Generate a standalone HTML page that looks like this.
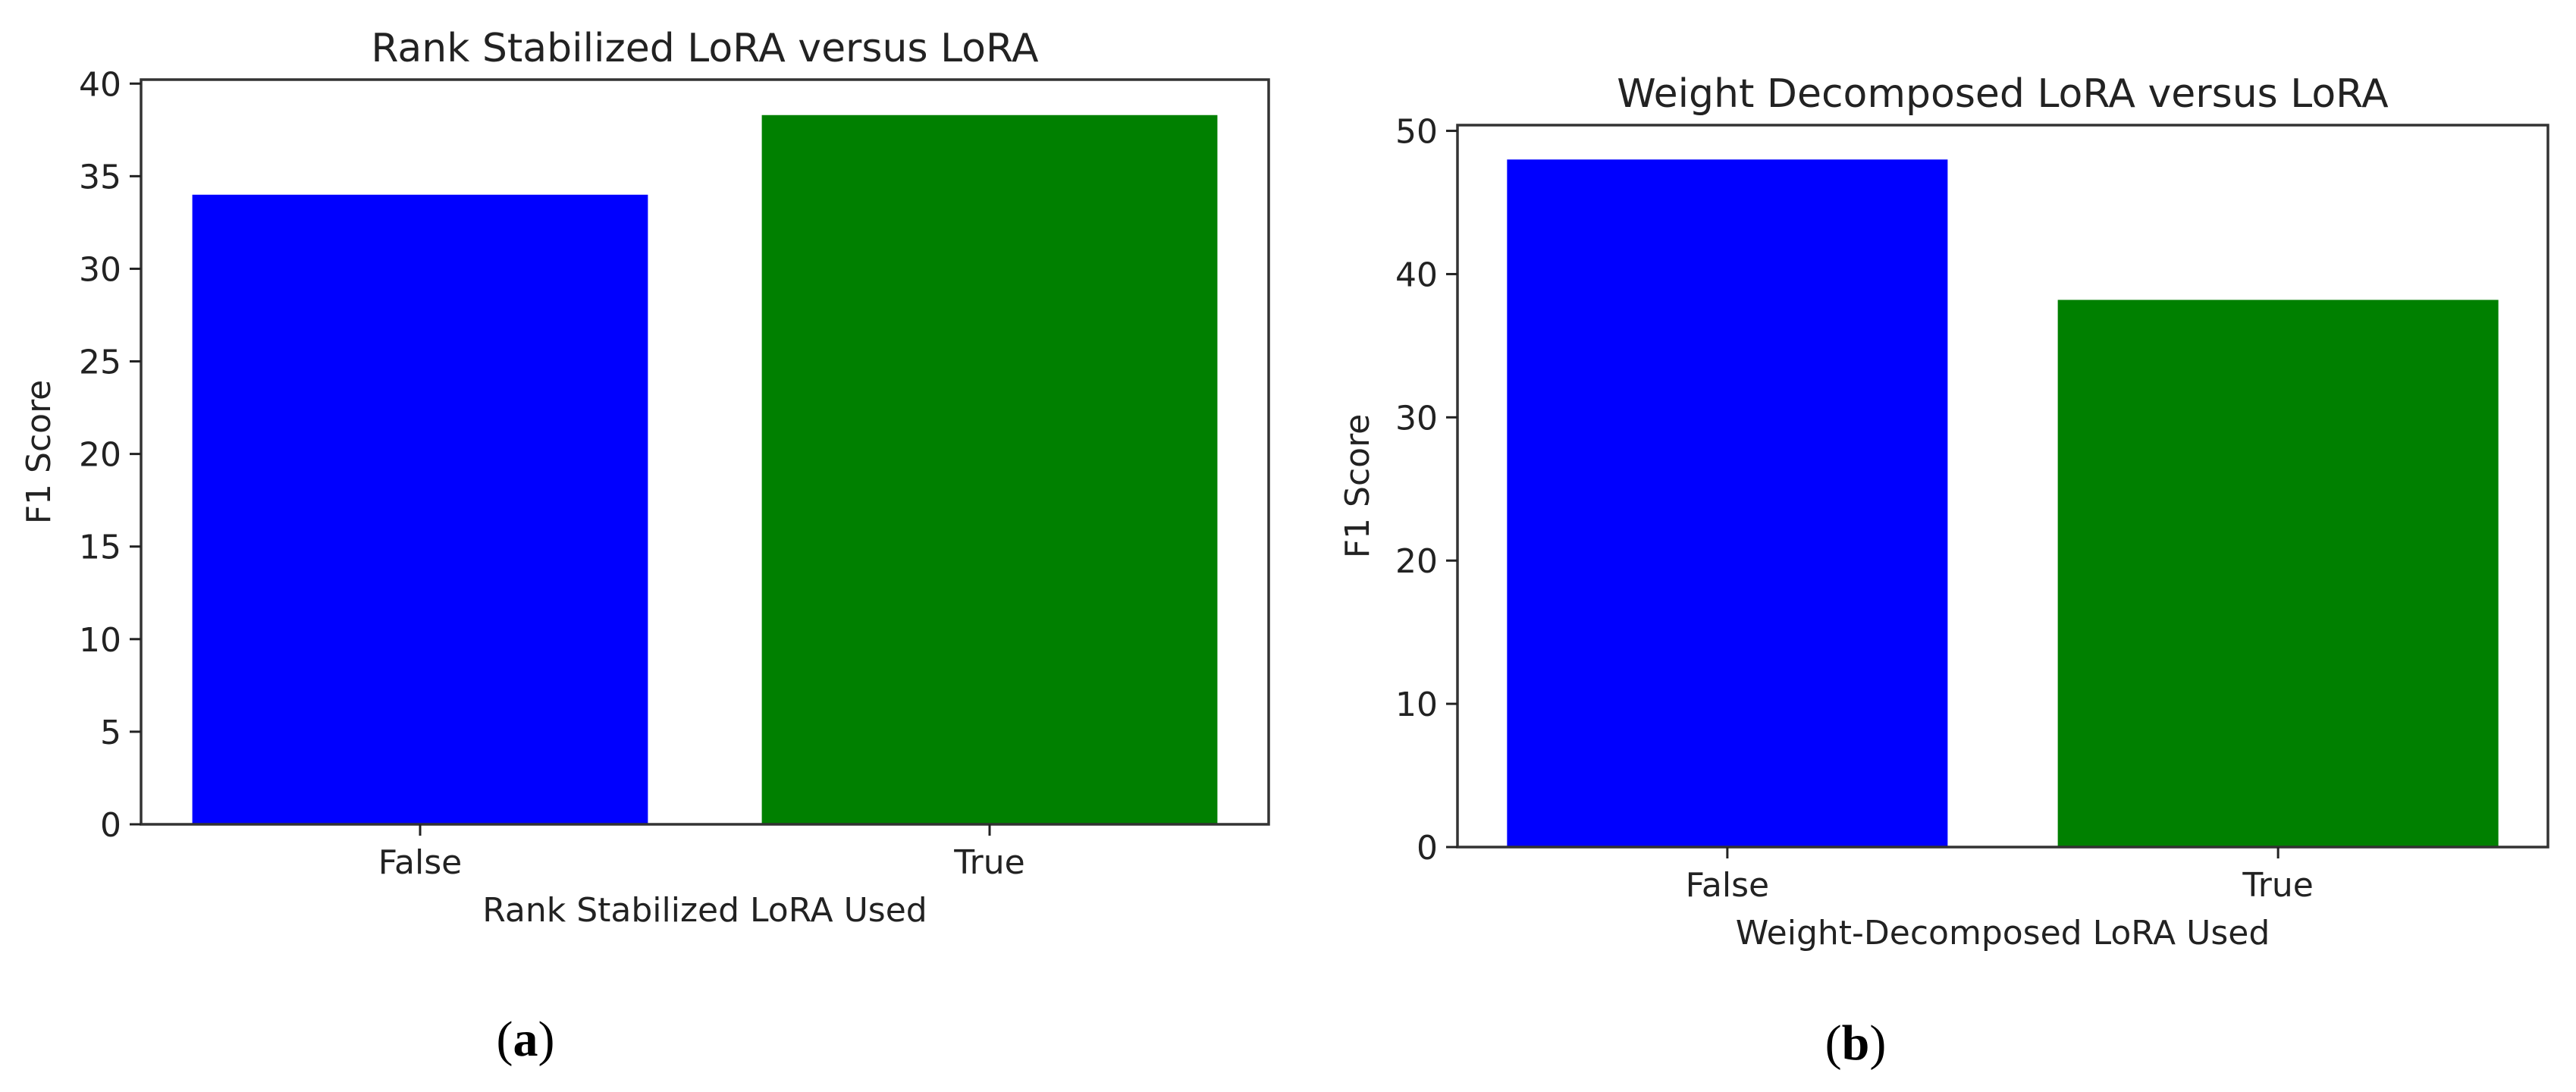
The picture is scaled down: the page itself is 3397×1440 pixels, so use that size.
<!DOCTYPE html>
<html><head><meta charset="utf-8">
<style>
html,body{margin:0;padding:0;background:#fff;}
svg{display:block;}
text{font-family:"DejaVu Sans","Liberation Sans",sans-serif;fill:#222;}
.cap{font-family:"Liberation Serif",serif;fill:#000;}
</style></head>
<body>
<svg id="fig" width="3397" height="1440" viewBox="0 0 3397 1440" xmlns="http://www.w3.org/2000/svg"></svg>
<script>
const categoriesA = ["False", "True"];
const valuesA = [34.0, 38.3];
const ticksA = [0, 5, 10, 15, 20, 25, 30, 35, 40];
const categoriesB = ["False", "True"];
const valuesB = [48.0, 38.2];
const ticksB = [0, 10, 20, 30, 40, 50];
const colors = ["#0000ff", "#008000"];

const NS = "http://www.w3.org/2000/svg";
const svg = document.getElementById("fig");
function mk(tag, attrs, parent, txt) {
  const e = document.createElementNS(NS, tag);
  for (const k in attrs) e.setAttribute(k, attrs[k]);
  if (txt !== undefined) e.textContent = txt;
  (parent || svg).appendChild(e);
  return e;
}

function chart(cfg) {
  const g = mk("g", {});
  
  
  const {L, R, T, B} = cfg;
  const ymax = Math.max(...cfg.values) * 1.05;
  const y = v => B - (v / ymax) * (B - T);
  const n = cfg.cats.length;
  const x0 = -0.4 - 0.09 * (n - 1 + 0.8) / 1.8 * 1.8 / 1.8;
  const span = (n - 1) + 0.8;
  const lo = -0.4 - span * 0.05, hi = (n - 1) + 0.4 + span * 0.05;
  const x = v => L + (v - lo) / (hi - lo) * (R - L);

  cfg.values.forEach((v, i) => {
    const r = mk("rect", {x: x(i - 0.4), y: y(v), width: x(i + 0.4) - x(i - 0.4), height: B - y(v), fill: colors[i]}, g);
    
    
  });

  const frame = mk("rect", {x: L, y: T, width: R - L, height: B - T, fill: "none", stroke: "#333", "stroke-width": 3.5}, g);
  
  

  cfg.ticks.forEach(t => {
    const ty = y(t);
    const tk = mk("line", {x1: L - 15, x2: L, y1: ty, y2: ty, stroke: "#222", "stroke-width": 3}, g);
    
    
    const lb = mk("text", {x: L - 26, y: ty + 16, "text-anchor": "end", "font-size": 44}, g, String(t));
    
    
  });
  cfg.cats.forEach((c, i) => {
    const tx = x(i);
    const tk = mk("line", {x1: tx, x2: tx, y1: B, y2: B + 15, stroke: "#222", "stroke-width": 3}, g);
    
    
    const lb = mk("text", {x: tx, y: B + 65, "text-anchor": "middle", "font-size": 44}, g, c);
    
    
  });
  const tt = mk("text", {x: (L + R) / 2, y: T - 24, "text-anchor": "middle", "font-size": 52}, g, cfg.title);
  
  
  const xl = mk("text", {x: (L + R) / 2, y: B + 128, "text-anchor": "middle", "font-size": 44}, g, cfg.xlabel);
  
  
  const cy = (T + B) / 2;
  const yl = mk("text", {x: cfg.ylx, y: cy, "text-anchor": "middle", "font-size": 44, transform: `rotate(-90 ${cfg.ylx} ${cy})`}, g, "F1 Score");
  
  
  const cap = mk("text", {x: cfg.capx, y: cfg.capy, "text-anchor": "middle", "font-size": 66, class: "cap"}, g);
  
  
  mk("tspan", {}, cap, "(");
  mk("tspan", {"font-weight": "bold"}, cap, cfg.cap);
  mk("tspan", {}, cap, ")");
}

chart({name: "chart-rank-stabilized", L: 186, R: 1673, T: 105, B: 1087, values: valuesA, cats: categoriesA, ticks: ticksA,
  title: "Rank Stabilized LoRA  versus LoRA", xlabel: "Rank Stabilized LoRA Used", ylx: 66, capx: 693, capy: 1392, cap: "a"});
chart({name: "chart-weight-decomposed", L: 1922, R: 3360, T: 165, B: 1117, values: valuesB, cats: categoriesB, ticks: ticksB,
  title: "Weight Decomposed LoRA versus LoRA", xlabel: "Weight-Decomposed LoRA Used", ylx: 1805, capx: 2447, capy: 1397, cap: "b"});
</script>
</body></html>
